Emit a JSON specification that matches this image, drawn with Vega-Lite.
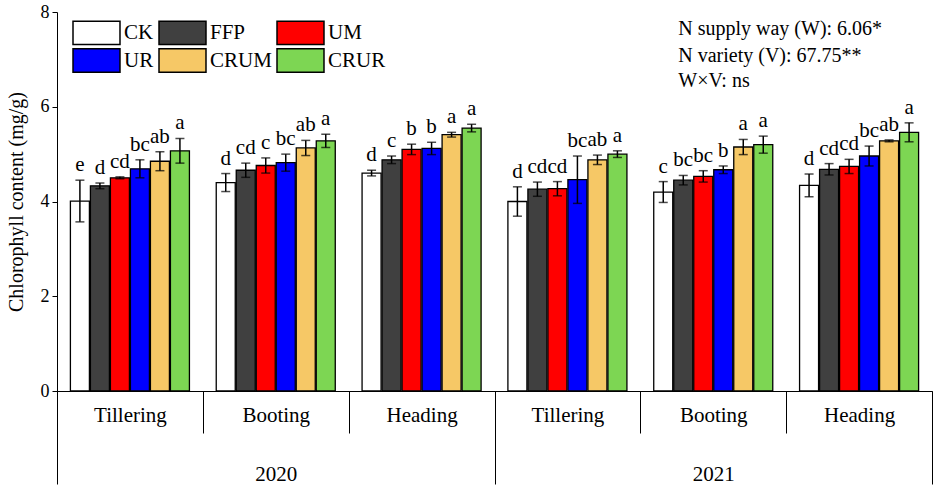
{
  "$schema": "https://vega.github.io/schema/vega-lite/v6.json",
  "autosize": {"type": "none"},
  "width": 875,
  "height": 379,
  "padding": {"left": 57, "top": 12, "right": 3, "bottom": 97},
  "datasets": {
    "bars": [
      {"year": "2020", "key": "2020|Tillering", "trt": "CK", "value": 4.01, "lo": 3.57, "hi": 4.45, "sig": "e"},
      {"year": "2020", "key": "2020|Tillering", "trt": "FFP", "value": 4.33, "lo": 4.27, "hi": 4.39, "sig": "d"},
      {"year": "2020", "key": "2020|Tillering", "trt": "UM", "value": 4.50, "lo": 4.48, "hi": 4.52, "sig": "cd"},
      {"year": "2020", "key": "2020|Tillering", "trt": "UR", "value": 4.69, "lo": 4.50, "hi": 4.88, "sig": "bc"},
      {"year": "2020", "key": "2020|Tillering", "trt": "CRUM", "value": 4.85, "lo": 4.65, "hi": 5.05, "sig": "ab"},
      {"year": "2020", "key": "2020|Tillering", "trt": "CRUR", "value": 5.07, "lo": 4.81, "hi": 5.33, "sig": "a"},
      {"year": "2020", "key": "2020|Booting", "trt": "CK", "value": 4.40, "lo": 4.21, "hi": 4.59, "sig": "d"},
      {"year": "2020", "key": "2020|Booting", "trt": "FFP", "value": 4.66, "lo": 4.51, "hi": 4.81, "sig": "cd"},
      {"year": "2020", "key": "2020|Booting", "trt": "UM", "value": 4.76, "lo": 4.60, "hi": 4.92, "sig": "c"},
      {"year": "2020", "key": "2020|Booting", "trt": "UR", "value": 4.82, "lo": 4.64, "hi": 5.00, "sig": "bc"},
      {"year": "2020", "key": "2020|Booting", "trt": "CRUM", "value": 5.13, "lo": 4.97, "hi": 5.29, "sig": "ab"},
      {"year": "2020", "key": "2020|Booting", "trt": "CRUR", "value": 5.28, "lo": 5.14, "hi": 5.42, "sig": "a"},
      {"year": "2020", "key": "2020|Heading", "trt": "CK", "value": 4.60, "lo": 4.54, "hi": 4.66, "sig": "d"},
      {"year": "2020", "key": "2020|Heading", "trt": "FFP", "value": 4.88, "lo": 4.80, "hi": 4.96, "sig": "c"},
      {"year": "2020", "key": "2020|Heading", "trt": "UM", "value": 5.10, "lo": 4.99, "hi": 5.21, "sig": "b"},
      {"year": "2020", "key": "2020|Heading", "trt": "UR", "value": 5.12, "lo": 4.99, "hi": 5.25, "sig": "b"},
      {"year": "2020", "key": "2020|Heading", "trt": "CRUM", "value": 5.41, "lo": 5.36, "hi": 5.46, "sig": "a"},
      {"year": "2020", "key": "2020|Heading", "trt": "CRUR", "value": 5.55, "lo": 5.47, "hi": 5.63, "sig": "a"},
      {"year": "2021", "key": "2021|Tillering", "trt": "CK", "value": 4.00, "lo": 3.69, "hi": 4.31, "sig": "d"},
      {"year": "2021", "key": "2021|Tillering", "trt": "FFP", "value": 4.26, "lo": 4.11, "hi": 4.41, "sig": "cd"},
      {"year": "2021", "key": "2021|Tillering", "trt": "UM", "value": 4.27, "lo": 4.12, "hi": 4.42, "sig": "cd"},
      {"year": "2021", "key": "2021|Tillering", "trt": "UR", "value": 4.46, "lo": 3.96, "hi": 4.96, "sig": "bc"},
      {"year": "2021", "key": "2021|Tillering", "trt": "CRUM", "value": 4.88, "lo": 4.78, "hi": 4.98, "sig": "ab"},
      {"year": "2021", "key": "2021|Tillering", "trt": "CRUR", "value": 5.00, "lo": 4.93, "hi": 5.07, "sig": "a"},
      {"year": "2021", "key": "2021|Booting", "trt": "CK", "value": 4.20, "lo": 3.98, "hi": 4.42, "sig": "c"},
      {"year": "2021", "key": "2021|Booting", "trt": "FFP", "value": 4.45, "lo": 4.35, "hi": 4.55, "sig": "bc"},
      {"year": "2021", "key": "2021|Booting", "trt": "UM", "value": 4.53, "lo": 4.41, "hi": 4.65, "sig": "bc"},
      {"year": "2021", "key": "2021|Booting", "trt": "UR", "value": 4.67, "lo": 4.59, "hi": 4.75, "sig": "b"},
      {"year": "2021", "key": "2021|Booting", "trt": "CRUM", "value": 5.15, "lo": 4.99, "hi": 5.31, "sig": "a"},
      {"year": "2021", "key": "2021|Booting", "trt": "CRUR", "value": 5.20, "lo": 5.02, "hi": 5.38, "sig": "a"},
      {"year": "2021", "key": "2021|Heading", "trt": "CK", "value": 4.34, "lo": 4.10, "hi": 4.58, "sig": "d"},
      {"year": "2021", "key": "2021|Heading", "trt": "FFP", "value": 4.68, "lo": 4.56, "hi": 4.80, "sig": "cd"},
      {"year": "2021", "key": "2021|Heading", "trt": "UM", "value": 4.74, "lo": 4.59, "hi": 4.89, "sig": "cd"},
      {"year": "2021", "key": "2021|Heading", "trt": "UR", "value": 4.96, "lo": 4.75, "hi": 5.17, "sig": "bc"},
      {"year": "2021", "key": "2021|Heading", "trt": "CRUM", "value": 5.28, "lo": 5.26, "hi": 5.30, "sig": "ab"},
      {"year": "2021", "key": "2021|Heading", "trt": "CRUR", "value": 5.46, "lo": 5.26, "hi": 5.66, "sig": "a"}
    ],
    "notes": [
      {"key": "2021|Booting", "y": 7.51, "note": "N supply way (W): 6.06*"},
      {"key": "2021|Booting", "y": 6.94, "note": "N variety (V): 67.75**"},
      {"key": "2021|Booting", "y": 6.42, "note": "W×V: ns"}
    ]
  },
  "layer": [
    {
      "data": {"name": "bars"},
      "encoding": {
        "x": {
          "field": "key", "type": "nominal",
          "scale": {
            "domain": ["2020|Tillering", "2020|Booting", "2020|Heading", "2021|Tillering", "2021|Booting", "2021|Heading"],
            "paddingInner": 0, "paddingOuter": 0
          },
          "axis": {
            "orient": "bottom", "title": null, "labelAngle": 0,
            "labelExpr": "split(datum.label, '|')[1]",
            "tickBand": "extent", "tickSize": 42, "tickColor": "black", "tickWidth": 1,
            "domainColor": "black", "domainWidth": 1,
            "labelPadding": -29, "labelBaseline": "top",
            "labelFont": "Liberation Serif", "labelFontSize": 21, "labelColor": "black"
          }
        }
      },
      "layer": [
        {
          "mark": {"type": "bar", "stroke": "black", "strokeWidth": 1.3},
          "encoding": {
            "xOffset": {
              "field": "trt", "type": "nominal",
              "scale": {"domain": ["CK", "FFP", "UM", "UR", "CRUM", "CRUR"], "paddingInner": 0.05, "paddingOuter": 0.67}
            },
            "y": {
              "field": "value", "type": "quantitative",
              "scale": {"domain": [0, 8], "nice": false},
              "axis": {
                "values": [0, 2, 4, 6, 8], "grid": false,
                "title": "Chlorophyll content (mg/g)",
                "titleFont": "Liberation Serif", "titleFontSize": 20, "titleFontWeight": "normal",
                "titleColor": "black", "titlePadding": 14,
                "labelFont": "Liberation Serif", "labelFontSize": 18, "labelColor": "black", "labelPadding": 3,
                "tickSize": 5, "tickColor": "black", "domainColor": "black"
              }
            },
            "color": {
              "field": "trt", "type": "nominal",
              "scale": {
                "domain": ["CK", "FFP", "UM", "UR", "CRUM", "CRUR"],
                "range": ["#ffffff", "#404040", "#ff0000", "#0000ff", "#f6c866", "#7dd653"]
              },
              "legend": {
                "orient": "none", "legendX": 27, "legendY": 8,
                "direction": "horizontal", "columns": 3, "title": null,
                "symbolType": "M-2,-1H2V1H-2Z", "symbolSize": 552,
                "symbolStrokeColor": "black", "symbolStrokeWidth": 1.5, "symbolOpacity": 1,
                "labelFont": "Liberation Serif", "labelFontSize": 21, "labelColor": "black",
                "labelOffset": 15, "columnPadding": 2, "rowPadding": -6, "padding": 0
              }
            }
          }
        },
        {
          "mark": {"type": "rule", "color": "black", "strokeWidth": 1.5},
          "encoding": {
            "xOffset": {"field": "trt", "type": "nominal"},
            "y": {"field": "lo", "type": "quantitative"},
            "y2": {"field": "hi"}
          }
        },
        {
          "mark": {"type": "tick", "orient": "horizontal", "color": "black", "size": 9, "thickness": 1.5},
          "encoding": {
            "xOffset": {"field": "trt", "type": "nominal"},
            "y": {"field": "hi", "type": "quantitative"}
          }
        },
        {
          "mark": {"type": "tick", "orient": "horizontal", "color": "black", "size": 9, "thickness": 1.5},
          "encoding": {
            "xOffset": {"field": "trt", "type": "nominal"},
            "y": {"field": "lo", "type": "quantitative"}
          }
        },
        {
          "mark": {"type": "text", "baseline": "alphabetic", "dy": -9, "font": "Liberation Serif", "fontSize": 21, "color": "black"},
          "encoding": {
            "xOffset": {"field": "trt", "type": "nominal"},
            "y": {"field": "hi", "type": "quantitative"},
            "text": {"field": "sig"}
          }
        },
        {
          "data": {"name": "notes"},
          "mark": {"type": "text", "align": "left", "baseline": "alphabetic", "font": "Liberation Serif", "fontSize": 20, "color": "black"},
          "encoding": {
            "x": {"field": "key", "type": "nominal", "bandPosition": 0.26},
            "y": {"field": "y", "type": "quantitative"},
            "text": {"field": "note"}
          }
        }
      ]
    },
    {
      "data": {"name": "bars"},
      "mark": {"type": "point", "opacity": 0},
      "encoding": {
        "x": {
          "field": "year", "type": "nominal",
          "scale": {"domain": ["2020", "2021"], "paddingInner": 0, "paddingOuter": 0},
          "axis": {
            "orient": "bottom", "title": null, "labelAngle": 0, "domain": false,
            "tickBand": "extent", "tickSize": 93, "tickColor": "black", "tickWidth": 1,
            "labelPadding": -21, "labelBaseline": "top",
            "labelFont": "Liberation Serif", "labelFontSize": 21, "labelColor": "black"
          }
        },
        "y": {"field": "value", "type": "quantitative"}
      }
    }
  ],
  "resolve": {"scale": {"x": "independent"}},
  "config": {"view": {"stroke": null}}
}
